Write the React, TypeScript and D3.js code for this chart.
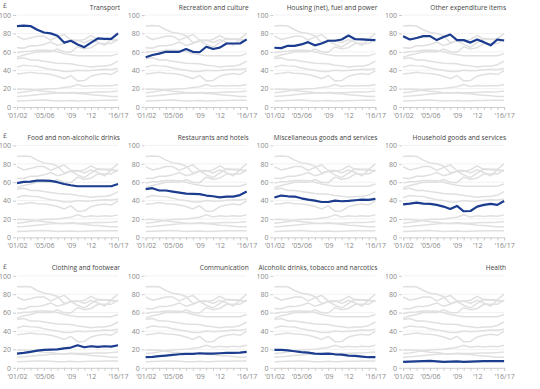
import React, { useEffect, useRef } from "react";
import { select, scaleLinear, axisLeft, axisBottom, line, range } from "d3";

// weekly household spend, £ (2001/02 to 2016/17)
const years = [
  "2001/02", "2002/03", "2003/04", "2004/05", "2005/06", "2006", "2007", "2008",
  "2009", "2010", "2011", "2012", "2013", "2014", "2015/16", "2016/17",
];
const tickIndex = [0, 4, 8, 11, 15];
const tickText = ["'01/02", "'05/06", "'09", "'12", "'16/17"];
const yTicks = [0, 20, 40, 60, 80, 100];

const categories = [
  "Transport",
  "Recreation and culture",
  "Housing (net), fuel and power",
  "Other expenditure items",
  "Food and non-alcoholic drinks",
  "Restaurants and hotels",
  "Miscellaneous goods and services",
  "Household goods and services",
  "Clothing and footwear",
  "Communication",
  "Alcoholic drinks, tobacco and narcotics",
  "Health",
];

const transport = [88, 88.5, 88, 84, 81, 80, 77.5, 70, 72, 68, 65, 70, 74.5, 74, 74, 80];
const recreation = [54, 56.5, 58, 60, 60, 60, 63, 60, 59.5, 65.5, 63, 64.5, 69, 69, 69, 73.5];
const housing = [64.4, 64, 66.5, 66.5, 68, 70.5, 67, 69, 72, 72, 73.4, 77.7, 73.7, 73.4, 73, 72.7];
const other = [77, 73.4, 75, 77, 77, 72.7, 76, 78.8, 72.7, 72.7, 70, 73.4, 70.5, 67, 73.4, 72.3];
const food = [59, 60.4, 60.7, 61.8, 61.8, 61.5, 60, 58, 56.7, 55.6, 55.6, 55.6, 55.6, 55.6, 55.6, 58];
const restaurants = [52.4, 53.5, 51, 51, 49.8, 48.7, 47.6, 47.3, 47, 45.5, 44.7, 43.6, 44.4, 44.4, 46, 49.8];
const misc = [43.3, 45.5, 44.7, 44.4, 42.5, 41, 40, 38.5, 38.5, 40, 39.3, 39.6, 40.4, 41, 40.7, 41.8];
const household = [36, 36.7, 37.8, 36.7, 36.4, 35.3, 33.5, 30.9, 34.2, 28.4, 28.7, 33.5, 35.3, 36.4, 35.3, 39.6];
const clothing = [15.5, 16.2, 17.3, 18.7, 19.4, 19.8, 20.1, 21.2, 22, 24.5, 22.3, 23.4, 22.7, 23.4, 23, 24.5];
const communication = [11.5, 11.9, 12.6, 13.3, 14, 14.7, 15.1, 15.1, 15.8, 15.5, 15.5, 15.8, 16.2, 16.2, 16.5, 17.3];
const alcohol = [19.4, 19.4, 19, 18, 17, 16.5, 15.5, 15.1, 15.5, 14.7, 14.4, 13.3, 12.9, 12.2, 11.5, 11.5];
const health = [6.5, 6.8, 7, 7.3, 7.5, 7, 6.5, 6.7, 7, 6.5, 6.8, 7, 7.2, 7.3, 7.3, 7.3];

const series = [
  transport, recreation, housing, other,
  food, restaurants, misc, household,
  clothing, communication, alcohol, health,
];

const App = () => {
  const svgRef = useRef(null);

  useEffect(() => {
    const W = 540;
    const H = 389;
    const svg = select(svgRef.current);
    svg.selectAll("*").remove();
    svg.attr("width", W).attr("height", H);

    const font = "'Open Sans', sans-serif";
    const panelW = 101;
    const panelH = 92;

    categories.forEach((name, i) => {
      const col = i % 4;
      const row = Math.floor(i / 4);
      const left = 17 + col * 128.7;
      const top = 15 + row * 130.4;

      const x = scaleLinear().domain([0, years.length - 1]).range([left, left + panelW]);
      const y = scaleLinear().domain([0, 100]).range([top + panelH, top]);

      const g = svg.append("g");

      // faint gridlines
      g.selectAll("line.grid")
        .data(yTicks.slice(1))
        .enter()
        .append("line")
        .attr("x1", left)
        .attr("x2", left + panelW)
        .attr("y1", (d) => y(d))
        .attr("y2", (d) => y(d))
        .attr("stroke", "#f2f2f2")
        .attr("stroke-width", 1);

      // y axis
      const ya = g.append("g")
        .attr("transform", `translate(${left - 1},0)`)
        .call(axisLeft(y).tickValues(yTicks).tickSize(3).tickPadding(2));
      ya.select(".domain").remove();
      ya.selectAll("line").attr("stroke", "#ccc");
      ya.selectAll("text").attr("fill", "#888").style("font-size", "7px").style("font-family", font);

      // x axis
      const xa = g.append("g")
        .attr("transform", `translate(0,${top + panelH})`)
        .call(
          axisBottom(x)
            .tickValues(range(years.length))
            .tickSize(3)
            .tickPadding(3)
            .tickFormat((d) => {
              const k = tickIndex.indexOf(d);
              return k >= 0 ? tickText[k] : "";
            })
        );
      xa.select(".domain").attr("stroke", "#ccc");
      xa.selectAll("line").attr("stroke", "#ccc");
      xa.selectAll("text").attr("fill", "#888").style("font-size", "7px").style("font-family", font);

      const lineGen = line()
        .x((d, k) => x(k))
        .y((d) => y(d));

      // every series in grey
      series.forEach((s) => {
        g.append("path")
          .datum(s)
          .attr("fill", "none")
          .attr("stroke", "#e0e0e0")
          .attr("stroke-width", 1.5)
          .attr("d", lineGen);
      });

      // the highlighted one
      g.append("path")
        .datum(series[i])
        .attr("fill", "none")
        .attr("stroke", "#1c3d8f")
        .attr("stroke-width", 2.2)
        .attr("stroke-linejoin", "round")
        .attr("d", lineGen);

      g.append("text")
        .attr("x", left + panelW + 2)
        .attr("y", top - 5.5)
        .attr("text-anchor", "end")
        .attr("fill", "#444")
        .style("font-size", "6.6px")
        .style("font-family", font)
        .text(name);

      if (col === 0) {
        g.append("text")
          .attr("x", 3)
          .attr("y", top - 7)
          .attr("fill", "#666")
          .style("font-size", "7px")
          .style("font-family", font)
          .text("£");
      }
    });
  }, []);

  return (
    <svg ref={svgRef} style={{ position: "absolute", left: 0, top: 0, background: "#fff" }}></svg>
  );
};

export default App;
